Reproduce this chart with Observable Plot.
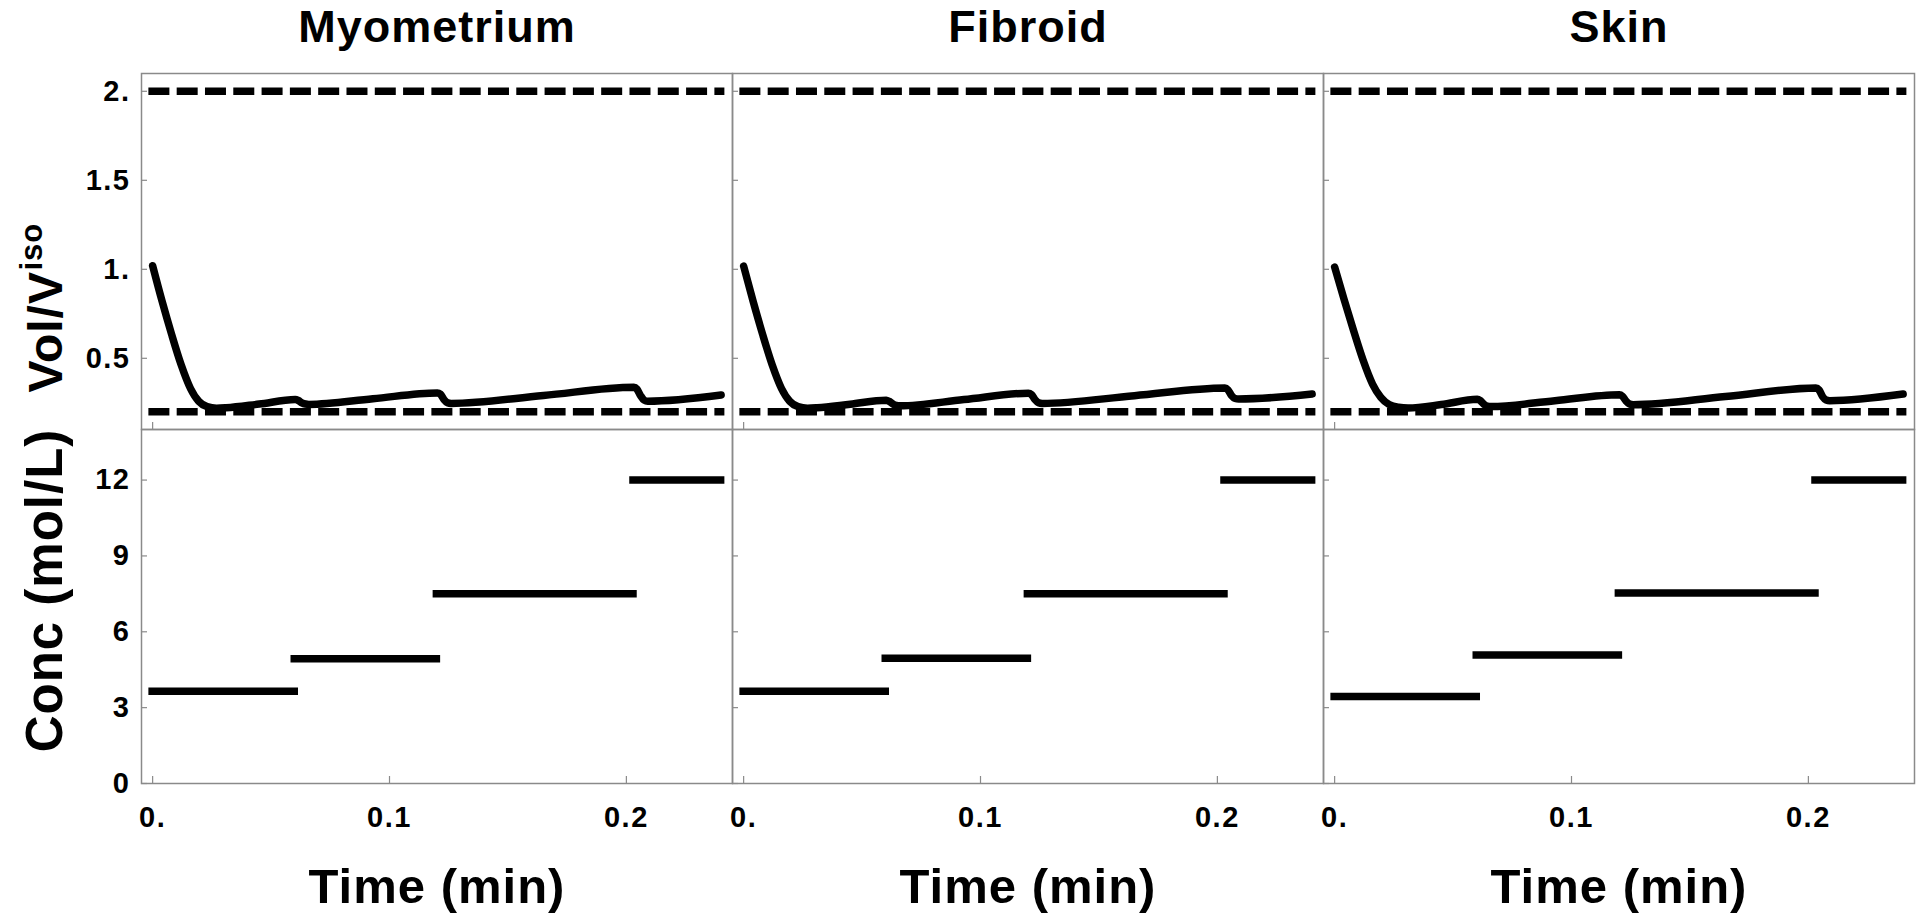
<!DOCTYPE html>
<html>
<head>
<meta charset="utf-8">
<script src="https://cdn.jsdelivr.net/npm/d3@7"></script>
<script src="https://cdn.jsdelivr.net/npm/@observablehq/plot@0.6"></script>
<style>
html, body { margin: 0; padding: 0; background: #fff; }
#chart { position: relative; width: 1920px; height: 917px; overflow: hidden; background: #fff; }
#chart > div { position: absolute; left: 0; }
#chart svg { display: block; overflow: visible; }
g[aria-label="y-axis tick label"] text, g[aria-label="x-axis tick label"] text { letter-spacing: 1.5px; }
g[aria-label="text"] text { letter-spacing: 1px; }
</style>
</head>
<body>
<div id="chart"><div id="top" style="top:0"></div><div id="bot" style="top:429px"></div></div>
<script>
// ---- data ----
const tissues = ["Myometrium", "Fibroid", "Skin"];
const xLabel = "Time (min)";
const yLabelTopMain = "Vol/V";
const yLabelTopSup = "iso";
const yLabelBottom = "Conc (mol/L)";

const volTime = [0, 0.004, 0.008, 0.012, 0.016, 0.0195, 0.023, 0.027, 0.031, 0.045,
  0.0602, 0.0615, 0.063, 0.0645, 0.066, 0.093,
  0.1202, 0.1215, 0.123, 0.1245, 0.126, 0.165,
  0.2032, 0.2045, 0.206, 0.2075, 0.209, 0.24];
const volMyometrium = [1.02, 0.82, 0.635, 0.465, 0.33, 0.258, 0.228, 0.22, 0.222, 0.243,
  0.268, 0.263, 0.25, 0.243, 0.241, 0.273,
  0.305, 0.298, 0.268, 0.25, 0.246, 0.291,
  0.337, 0.326, 0.29, 0.265, 0.259, 0.294];
const volFibroid = [1.018, 0.82, 0.635, 0.465, 0.33, 0.258, 0.228, 0.22, 0.222, 0.242,
  0.265, 0.258, 0.243, 0.235, 0.233, 0.268,
  0.304, 0.296, 0.268, 0.25, 0.246, 0.29,
  0.333, 0.322, 0.29, 0.274, 0.271, 0.299];
const volSkin = [1.013, 0.83, 0.655, 0.49, 0.355, 0.28, 0.24, 0.225, 0.221, 0.24,
  0.27, 0.262, 0.242, 0.231, 0.229, 0.262,
  0.295, 0.287, 0.26, 0.243, 0.239, 0.285,
  0.333, 0.322, 0.285, 0.266, 0.262, 0.299];

const isoBounds = [0.2, 2.0];
const timeRange = [0, 0.24];

const stepStart = [0, 0.06, 0.12, 0.203];
const stepEnd = [0.06, 0.12, 0.203, 0.24];
const concMyometrium = [3.65, 4.93, 7.5, 12];
const concFibroid = [3.65, 4.95, 7.5, 12];
const concSkin = [3.44, 5.08, 7.53, 12];

const timeTicks = [0, 0.1, 0.2];
const timeTickLabels = ["0.", "0.1", "0.2"];
const volTicks = [0.5, 1, 1.5, 2];
const volTickLabels = ["0.5", "1.", "1.5", "2."];
const concTicks = [0, 3, 6, 9, 12];
const concTickLabels = ["0", "3", "6", "9", "12"];

const xDomain = [-0.0047, 0.2448];
const volDomain = [0.1, 2.1];
const concDomain = [0, 14];

// ---- tables ----
const volSeries = [volMyometrium, volFibroid, volSkin];
const concSeries = [concMyometrium, concFibroid, concSkin];
const volRows = tissues.flatMap((tissue, k) => volTime.map((t, i) => ({tissue, t, v: volSeries[k][i]})));
const boundRows = tissues.flatMap(tissue => isoBounds.map(v => ({tissue, v, t0: timeRange[0], t1: timeRange[1]})));
const stepRows = tissues.flatMap((tissue, k) => stepStart.map((t0, i) => ({tissue, t0, t1: stepEnd[i], c: concSeries[k][i]})));

const FONT = "'Liberation Sans', Arial, Helvetica, sans-serif";
const W = 1920, ML = 141, MR = 6;
const style = {fontFamily: FONT, fontWeight: "bold", color: "black", background: "transparent", overflow: "visible"};
const frameStroke = "#8a8a8a";
const LW = 7.5;

const topPlot = Plot.plot({
  width: W, height: 429, marginLeft: ML, marginRight: MR, marginTop: 73, marginBottom: 0,
  style,
  fx: {domain: tissues, padding: 0, axis: null},
  x: {domain: xDomain},
  y: {domain: volDomain},
  marks: [
    Plot.frame({stroke: frameStroke, strokeWidth: 1.5}),
    Plot.axisY({ticks: volTicks, tickSize: 6, dx: 6, fill: "none", stroke: frameStroke, strokeWidth: 1.2, facetAnchor: null, label: null}),
    Plot.axisX({ticks: [timeTicks[0]], tickSize: 7, dy: -7, fill: "none", stroke: frameStroke, strokeWidth: 1.2, facetAnchor: null, label: null}),
    Plot.axisY({ticks: volTicks, tickSize: 0, tickPadding: 11, tickFormat: d => volTickLabels[volTicks.indexOf(d)], fontSize: 29, fontWeight: "bold", label: null}),
    Plot.ruleY(boundRows, {fx: "tissue", y: "v", x1: "t0", x2: "t1", stroke: "black", strokeWidth: LW, strokeDasharray: "13.5,14.8", strokeLinecap: "square"}),
    Plot.line(volRows, {fx: "tissue", x: "t", y: "v", z: "tissue", stroke: "black", strokeWidth: LW, curve: "monotone-x", strokeLinejoin: "round"}),
    Plot.text(tissues, {fx: d => d, text: d => d, frameAnchor: "top", lineAnchor: "bottom", dy: -32, fontSize: 45, fontWeight: "bold"}),
    Plot.text([tissues[0]], {fx: d => d, text: () => yLabelTopMain, frameAnchor: "left", rotate: -90, textAnchor: "start", lineAnchor: "bottom", dx: -80, dy: 141, fontSize: 48, fontWeight: "bold"}),
    Plot.text([tissues[0]], {fx: d => d, text: () => yLabelTopSup, frameAnchor: "left", rotate: -90, textAnchor: "start", lineAnchor: "bottom", dx: -100, dy: 19, fontSize: 31, fontWeight: "bold"})
  ]
});

const botPlot = Plot.plot({
  width: W, height: 488, marginLeft: ML, marginRight: MR, marginTop: 0, marginBottom: 134,
  style,
  fx: {domain: tissues, padding: 0, axis: null},
  x: {domain: xDomain},
  y: {domain: concDomain},
  marks: [
    Plot.frame({stroke: frameStroke, strokeWidth: 1.5}),
    Plot.axisY({ticks: concTicks, tickSize: 6, dx: 6, fill: "none", stroke: frameStroke, strokeWidth: 1.2, facetAnchor: null, label: null}),
    Plot.axisX({ticks: timeTicks, tickSize: 7, dy: -7, fill: "none", stroke: frameStroke, strokeWidth: 1.2, facetAnchor: null, label: null}),
    Plot.axisY({ticks: concTicks, tickSize: 0, tickPadding: 11, tickFormat: d => concTickLabels[concTicks.indexOf(d)], fontSize: 29, fontWeight: "bold", label: null}),
    Plot.axisX({ticks: timeTicks, tickSize: 0, tickPadding: 23, tickFormat: d => timeTickLabels[timeTicks.indexOf(d)], fontSize: 29, fontWeight: "bold", facetAnchor: null, label: null}),
    Plot.ruleY(stepRows, {fx: "tissue", y: "c", x1: "t0", x2: "t1", stroke: "black", strokeWidth: LW, strokeLinecap: "square"}),
    Plot.text(tissues, {fx: d => d, text: () => xLabel, frameAnchor: "bottom", lineAnchor: "bottom", dy: 119, fontSize: 49, fontWeight: "bold"}),
    Plot.text([tissues[0]], {fx: d => d, text: () => yLabelBottom, frameAnchor: "left", rotate: -90, textAnchor: "middle", lineAnchor: "bottom", dx: -80, dy: -16, fontSize: 51, fontWeight: "bold"})
  ]
});

document.getElementById("top").appendChild(topPlot);
document.getElementById("bot").appendChild(botPlot);
</script>
</body>
</html>
